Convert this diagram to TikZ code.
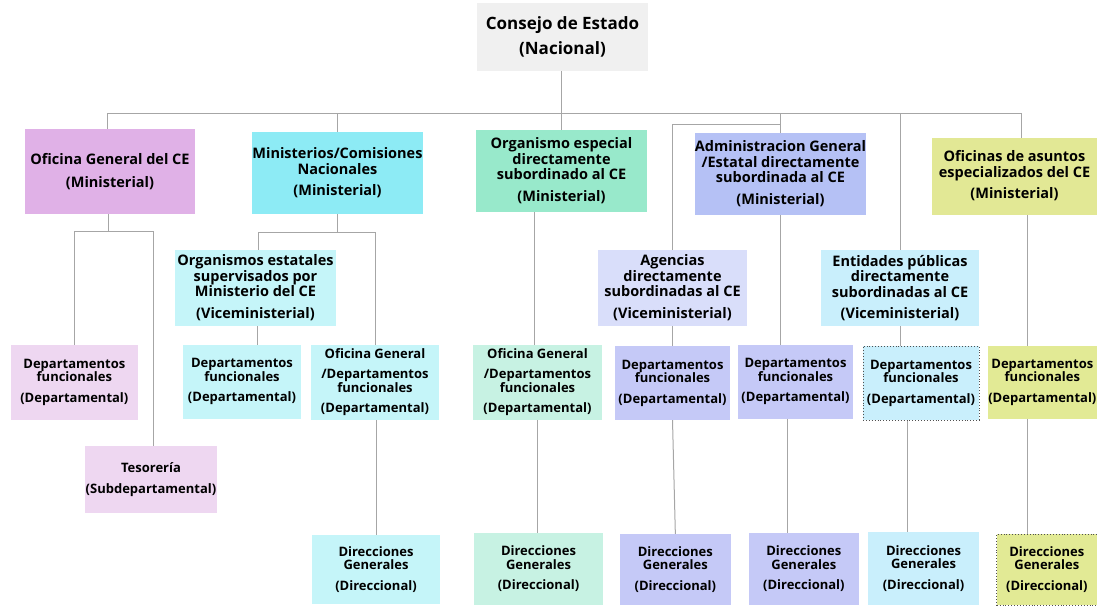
\documentclass[tikz,border=0pt]{standalone}
\usepackage{fontspec}
\setmainfont{Open Sans}
\usetikzlibrary{backgrounds}

\definecolor{topgray}{HTML}{F0F0F0}
\definecolor{ofiC}{HTML}{E0B1E7}
\definecolor{minC}{HTML}{8DEBF5}
\definecolor{orgC}{HTML}{98E9CB}
\definecolor{admC}{HTML}{B5C1F5}
\definecolor{ofaC}{HTML}{E2E895}
\definecolor{pinkL}{HTML}{EED7F1}
\definecolor{cyanL}{HTML}{C5F5F9}
\definecolor{mintL}{HTML}{C7F2E3}
\definecolor{ageC}{HTML}{D9DEFA}
\definecolor{blueL}{HTML}{C5C9F7}
\definecolor{entC}{HTML}{C9EFFC}
\definecolor{yellowL}{HTML}{E2EA95}
\definecolor{linegray}{HTML}{A6A6A6}
\definecolor{dotgray}{HTML}{505050}

% box given by its corners (x1,y1)-(x2,y2) in pixel units
\newcommand\orgbox[7]{%
  \node[box,#6,minimum width={#4-#2},minimum height={#5-#3}]
    (#1) at ({(#2+#4)/2},{(#3+#5)/2}) {#7};}

\begin{document}
\begin{tikzpicture}[x=1pt,y=-1pt,
  box/.style={inner sep=0pt,outer sep=0pt,align=center,text=black,
    font=\bfseries\fontsize{14.5}{15.5}\selectfont},
  small/.style={font=\bfseries\fontsize{13}{13.3}\selectfont},
  title/.style={font=\bfseries\fontsize{17}{25}\selectfont},
  conn/.style={draw=linegray,line width=1pt},
  dotbox/.style={draw=dotgray,dotted,line width=0.9pt}]

\useasboundingbox (0,0) rectangle (1097,605);

% top level
\orgbox{top}{477}{3}{648}{71}{title,fill=topgray}{Consejo de Estado\\(Nacional)}

% ministerial level
\orgbox{ofi}{25}{129}{195}{214}{fill=ofiC}{Oficina General del CE\\[7pt](Ministerial)}
\orgbox{min}{252}{131.5}{423}{214}{fill=minC}{Ministerios/Comisiones\\Nacionales\\[6pt](Ministerial)}
\orgbox{org}{476}{129.5}{647}{211.5}{fill=orgC}{Organismo especial\\directamente\\subordinado al CE\\[6pt](Ministerial)}
\orgbox{adm}{695}{132.5}{866}{215}{fill=admC}{Administracion General\\/Estatal directamente\\subordinada al CE\\[6pt](Ministerial)}
\orgbox{ofa}{932}{137.5}{1097}{214.5}{fill=ofaC}{Oficinas de asuntos\\especializados del CE\\[6pt](Ministerial)}

% viceministerial level
\orgbox{oes}{175}{250}{336}{325.7}{fill=cyanL}{Organismos estatales\\supervisados por\\Ministerio del CE\\[6pt](Viceministerial)}
\orgbox{age}{598}{250}{747}{325.7}{fill=ageC}{Agencias\\directamente\\subordinadas al CE\\[6pt](Viceministerial)}
\orgbox{ent}{821}{250}{979}{325.7}{fill=entC}{Entidades públicas\\directamente\\subordinadas al CE\\[6pt](Viceministerial)}

% departmental level
\orgbox{dp1}{10.7}{345}{138}{420}{small,fill=pinkL}{Departamentos\\funcionales\\[7.5pt](Departamental)}
\orgbox{dp2}{183}{344.7}{301}{418.7}{small,fill=cyanL}{Departamentos\\funcionales\\[7.5pt](Departamental)}
\orgbox{ogd}{311}{345}{439}{420}{small,fill=cyanL}{Oficina General\\[6.5pt]/Departamentos\\funcionales\\[7.5pt](Departamental)}
\orgbox{ogm}{473}{345}{602}{420}{small,fill=mintL}{Oficina General\\[6.5pt]/Departamentos\\funcionales\\[7.5pt](Departamental)}
\orgbox{dp3}{615}{346}{730}{420}{small,fill=blueL}{Departamentos\\funcionales\\[7.5pt](Departamental)}
\orgbox{dp4}{738}{345}{853}{418.7}{small,fill=blueL}{Departamentos\\funcionales\\[7.5pt](Departamental)}
\orgbox{dp5}{863}{346}{979}{420}{small,fill=entC,dotbox}{Departamentos\\funcionales\\[7.5pt](Departamental)}
\orgbox{dp6}{987.7}{346}{1097}{419}{small,fill=yellowL}{Departamentos\\funcionales\\[7.5pt](Departamental)}
\orgbox{tes}{85}{446}{217}{513}{small,fill=pinkL}{Tesorería\\[7pt](Subdepartamental)}

% directional level
\orgbox{dg1}{312}{535}{440}{604}{small,fill=cyanL}{Direcciones\\Generales\\[7.5pt](Direccional)}
\orgbox{dg2}{474}{533}{603}{605}{small,fill=mintL}{Direcciones\\Generales\\[7.5pt](Direccional)}
\orgbox{dg3}{620}{534}{730.7}{605}{small,fill=blueL}{Direcciones\\Generales\\[7.5pt](Direccional)}
\orgbox{dg4}{748.7}{533}{859}{605}{small,fill=blueL}{Direcciones\\Generales\\[7.5pt](Direccional)}
\orgbox{dg5}{868}{532}{979}{605}{small,fill=entC}{Direcciones\\Generales\\[7.5pt](Direccional)}
\orgbox{dg6}{996.7}{534}{1097}{605}{small,fill=yellowL,dotbox}{Direcciones\\Generales\\[7.5pt](Direccional)}

% junction heights of the connector buses
\coordinate (bus) at (0,113.3);
\coordinate (admj) at (0,124.3);
\coordinate (ofij) at (0,231.7);
\coordinate (minj) at (0,232.7);

\begin{scope}[on background layer]
  % main bus below the State Council
  \draw[conn] ([xshift=-3]ofi.north) |- ([xshift=7.2]ofa.north |- bus)
              -- ([xshift=7.2]ofa.north);
  \draw[conn] (top.south -| org.north) -- (org.north);
  \draw[conn] (min.north) -- (min.north |- bus);
  \draw[conn] (adm.north) -- (adm.north |- bus);
  \draw[conn] (ent.north) -- (ent.north |- bus);
  \draw[conn] (age.north) |- (adm.north |- admj);

  % Oficina General del CE
  \draw[conn] ([xshift=-2]ofi.south) -- ([xshift=-2]ofi.south |- ofij);
  \draw[conn] (dp1.north) |- ([xshift=2]tes.north |- ofij) -- ([xshift=2]tes.north);

  % Ministerios
  \draw[conn] (min.south) -- (min.south |- minj);
  \draw[conn] ([xshift=2.5]oes.north) |- (ogd.north |- minj) -- (ogd.north);
  \draw[conn] ([xshift=1.5]oes.south) -- ([xshift=1.5]oes.south |- dp2.north);
  \draw[conn] (ogd.south -| dg1.north) -- (dg1.north);

  % Organismo especial
  \draw[conn] ([xshift=-3.5]ogm.north |- org.south) -- ([xshift=-3.5]ogm.north);
  \draw[conn] (ogm.south) -- (ogm.south |- dg2.north);

  % Agencias
  \draw[conn] (age.south) -- (dp3.north);
  \draw[conn] (dp3.south) -- (dg3.north);

  % Administracion General
  \draw[conn] (adm.south) -- (adm.south |- dp4.north);
  \draw[conn] ([xshift=-8.5]dp4.south) -- ([xshift=-8.5]dp4.south |- dg4.north);

  % Entidades publicas
  \draw[conn] (ent.south) -- (ent.south |- dp5.north);
  \draw[conn] ([xshift=-14]dp5.south) -- ([xshift=-14]dp5.south |- dg5.north);

  % Oficinas de asuntos especializados
  \draw[conn] ([xshift=12.5]ofa.south) -- ([xshift=12.5]ofa.south |- dg6.north);
\end{scope}
\end{tikzpicture}
\end{document}
